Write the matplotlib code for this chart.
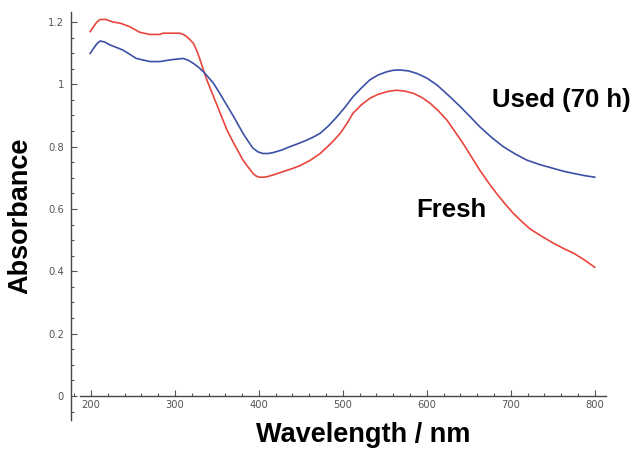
import matplotlib
matplotlib.use("Agg")
from matplotlib import pyplot as plt
from matplotlib.ticker import MultipleLocator, FixedFormatter, FixedLocator

# wavelengths (nm) and absorbance
wl_fresh = [199, 203, 207, 211, 218, 226, 235, 246, 258, 270, 282, 286, 296, 306,
            310, 314, 318, 322, 326, 330, 334, 338, 346, 354, 362, 370, 381, 387,
            393, 397, 401, 405, 409, 419, 429, 439, 449, 461, 473, 485, 497, 505,
            512, 522, 532, 542, 552, 558, 564, 574, 584, 594, 604, 614, 624, 633,
            643, 653, 663, 673, 683, 693, 703, 713, 723, 737, 751, 763, 775, 788,
            800]
abs_fresh = [1.169, 1.185, 1.200, 1.208, 1.208, 1.200, 1.196, 1.185, 1.167, 1.160,
             1.160, 1.164, 1.164, 1.164, 1.160, 1.153, 1.143, 1.131, 1.108, 1.078,
             1.045, 1.014, 0.960, 0.907, 0.853, 0.811, 0.757, 0.735, 0.714, 0.705,
             0.702, 0.702, 0.703, 0.711, 0.720, 0.729, 0.739, 0.756, 0.778, 0.808,
             0.843, 0.875, 0.907, 0.934, 0.955, 0.968, 0.976, 0.979, 0.981, 0.978,
             0.971, 0.958, 0.939, 0.914, 0.885, 0.850, 0.811, 0.768, 0.725, 0.686,
             0.650, 0.617, 0.586, 0.560, 0.536, 0.512, 0.490, 0.473, 0.458, 0.436,
             0.413]

wl_used = [199, 203, 207, 211, 216, 223, 238, 254, 270, 282, 296, 310, 316, 322,
           328, 334, 340, 346, 352, 358, 370, 381, 387, 393, 399, 405, 411, 417,
           427, 437, 447, 457, 465, 473, 483, 493, 503, 512, 522, 532, 542, 552,
           560, 568, 578, 588, 600, 612, 626, 640, 652, 663, 677, 691, 705, 719,
           735, 751, 763, 775, 788, 800]
abs_used = [1.099, 1.115, 1.130, 1.139, 1.136, 1.126, 1.110, 1.083, 1.073, 1.073,
            1.079, 1.083, 1.077, 1.067, 1.055, 1.040, 1.022, 1.003, 0.977, 0.950,
            0.896, 0.843, 0.818, 0.795, 0.783, 0.778, 0.778, 0.781, 0.789, 0.800,
            0.810, 0.821, 0.831, 0.843, 0.867, 0.896, 0.928, 0.960, 0.988, 1.014,
            1.030, 1.040, 1.045, 1.046, 1.043, 1.035, 1.020, 0.998, 0.964, 0.928,
            0.895, 0.864, 0.830, 0.800, 0.777, 0.757, 0.742, 0.730, 0.721, 0.714,
            0.707, 0.702]

y_ticks = [0, 0.2, 0.4, 0.6, 0.8, 1.0, 1.2]
y_labels = ["0", "0.2", "0.4", "0.6", "0.8", "1", "1.2"]
x_ticks = [200, 300, 400, 500, 600, 700, 800]

W, H = 638, 449
fig = plt.figure(figsize=(W / 100, H / 100), dpi=100)
ax = fig.add_axes([70.85 / W, 29 / H, 534.8 / W, 408 / H])

ax.plot(wl_fresh, abs_fresh, color="#e8453c", lw=1.2)
ax.plot(wl_used, abs_used, color="#3d4fa6", lw=1.2)

ax.set_xlim(176, 813)
ax.set_ylim(-0.077, 1.232)

for s in ("top", "right"):
    ax.spines[s].set_visible(False)
ax.spines["bottom"].set_position(("data", 0))
ax.spines["bottom"].set_bounds(187, 813)
for s in ("left", "bottom"):
    ax.spines[s].set_color("#444444")
    ax.spines[s].set_linewidth(1.0)

ax.yaxis.set_major_locator(FixedLocator(y_ticks))
ax.yaxis.set_major_formatter(FixedFormatter(y_labels))
ax.yaxis.set_minor_locator(MultipleLocator(0.05))
ax.xaxis.set_major_locator(FixedLocator(x_ticks))
ax.xaxis.set_minor_locator(MultipleLocator(20))

ax.tick_params(which="both", direction="in", colors="#555555", labelsize=7.2)
ax.tick_params(which="major", length=4, width=0.8)
ax.tick_params(which="minor", length=2, width=0.8)
ax.tick_params(axis="x", pad=3)
ax.tick_params(axis="y", pad=5)

bold = dict(family=["Liberation Sans", "DejaVu Sans"], weight="bold", color="black")
# the reference crops the descenders of the x label a little; kept just inside
fig.text(256 / W, 1 - 442 / H, "Wavelength / nm", fontsize=19.5, ha="left", va="baseline", **bold)
fig.text(20.5 / W, 1 - 216 / H, "Absorbance", fontsize=19.5, rotation=90,
         ha="center", va="center", **bold)
fig.text(491.7 / W, 1 - 106.7 / H, "Used (70 h)", fontsize=18.5, ha="left", va="baseline", **bold)
fig.text(416.7 / W, 1 - 216.7 / H, "Fresh", fontsize=18.5, ha="left", va="baseline", **bold)

fig.savefig("out.png", dpi=100)
